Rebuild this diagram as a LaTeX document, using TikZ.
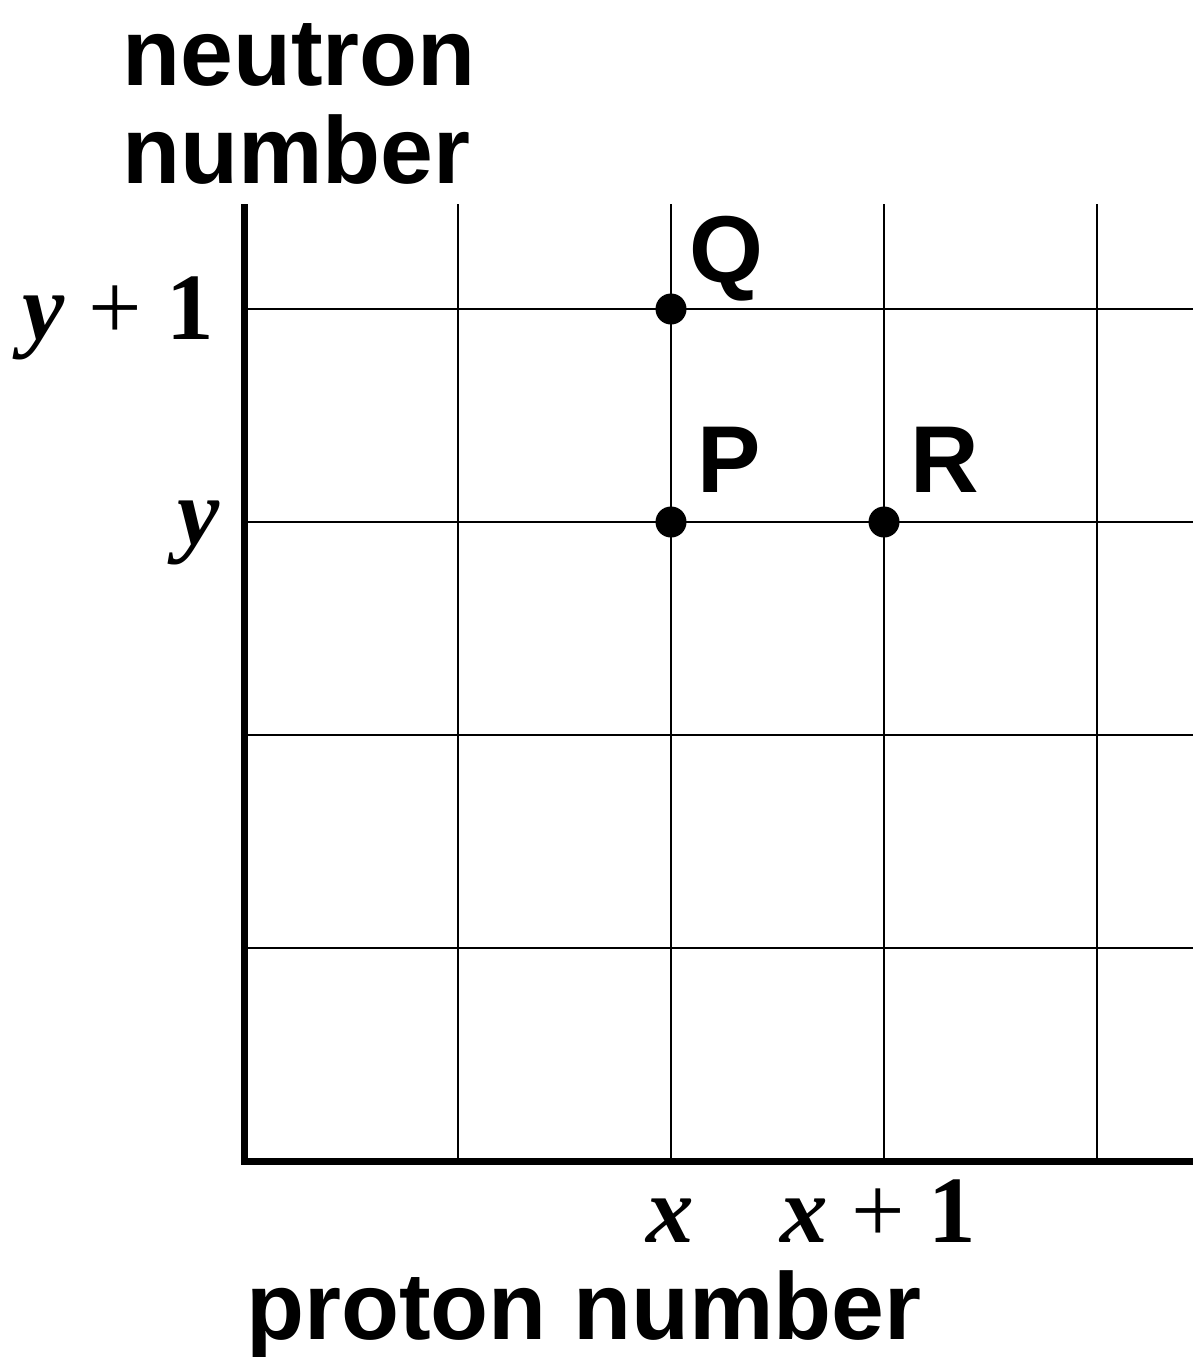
\documentclass[tikz,border=0pt]{standalone}
\usepackage{fontspec}
\setmainfont{Liberation Serif}
\newfontfamily\labfont{Liberation Sans}
\begin{document}
\begin{tikzpicture}[x=1pt,y=-1pt,
  gridline/.style={line width=2.6pt,black},
  axisline/.style={line width=7pt,black,line join=miter},
  dotpt/.style={circle,fill=black,inner sep=0pt,minimum size=31pt},
  sanslab/.style={inner sep=0pt,font=\labfont\bfseries\fontsize{95}{98}\selectfont},
  mathlab/.style={inner sep=0pt,font=\bfseries\fontsize{95}{98}\selectfont}]
\useasboundingbox (0,0) rectangle (1193,1357);
% grid
\foreach \gx in {458,671,884,1097} \draw[gridline] (\gx,204) -- (\gx,1161);
\foreach \gy in {309,522,735,948} \draw[gridline] (244,\gy) -- (1193,\gy);
% axes
\coordinate (top) at (244.5,204);
\coordinate (origin) at (244.5,1161);
\coordinate (right) at (1193,1161);
\draw[axisline] (top) -- (origin) -- (right);
% points
\node[dotpt] (Q) at (671,309) {};
\node[dotpt] (P) at (671,522) {};
\node[dotpt] (R) at (884,522) {};
\node[sanslab,anchor=base west] (Qlab) at (689,282) {Q};
\node[sanslab,anchor=base west] (Plab) at (697,492) {P};
\node[sanslab,anchor=base west] (Rlab) at (910,492) {R};
% axis titles
\node[sanslab,anchor=base west] (nt1) at (122,85) {neutron};
\node[sanslab,anchor=base west] (nt2) at (122,183) {number};
\node[sanslab,anchor=base west] (pt) at (246,1339) {proton number};
% tick labels
\node[mathlab,anchor=base east] (yp1) at (214,339) {\textit{y} {\mdseries +} 1};
\node[mathlab,anchor=base east] (y0) at (220,544) {\textit{y}};
\node[mathlab,anchor=base] (x0) at (670,1242) {\textit{x}};
\node[mathlab,anchor=base west] (xp1) at (780,1242) {\textit{x} {\mdseries +} 1};
\end{tikzpicture}
\end{document}
